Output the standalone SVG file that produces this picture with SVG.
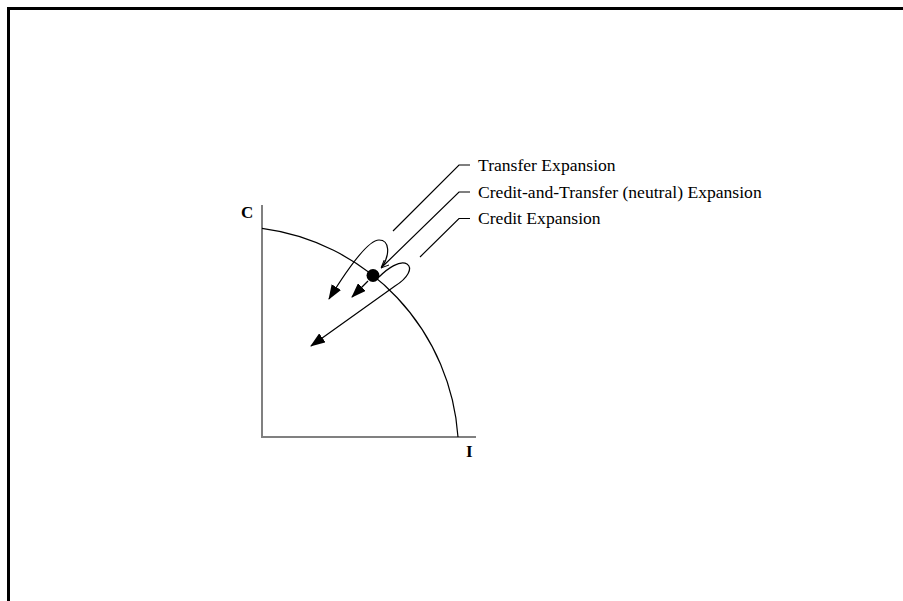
<svg xmlns="http://www.w3.org/2000/svg" width="903" height="601" viewBox="0 0 903 601">
  <style>
    .lbl { font-family: "Liberation Serif", "Times New Roman", serif; font-size: 17.6px; fill: #000; }
    .ax { font-family: "Liberation Serif", "Times New Roman", serif; font-size: 17px; font-weight: bold; fill: #000; }
    .axis { stroke: #808080; stroke-width: 2; fill: none; }
    .ln { stroke: #000; stroke-width: 1.2; fill: none; }
  </style>
  <defs>
    <marker id="ah" viewBox="0 0 15 11" refX="14" refY="5.5" markerWidth="15" markerHeight="11" markerUnits="userSpaceOnUse" orient="auto">
      <path d="M0,0 L15,5.5 L0,11 z" fill="#000"/>
    </marker>
    <marker id="ahs" viewBox="0 0 8 8" refX="8" refY="4" markerWidth="8" markerHeight="8" markerUnits="userSpaceOnUse" orient="auto">
      <path d="M0,0.5 L8,4 L0,7.5" fill="none" stroke="#000" stroke-width="1"/>
    </marker>
  </defs>
  <rect x="0" y="0" width="903" height="601" fill="#fff"/>
  <path d="M 8.5 601 V 8.5 H 903" fill="none" stroke="#000" stroke-width="3"/>

  <g id="axes">
    <path class="axis" d="M 262 205 V 437 H 476"/>
    <text class="ax" x="241" y="218">C</text>
    <text class="ax" x="466" y="457">I</text>
  </g>

  <g id="ppf">
    <path class="ln" d="M 262 228.4 A 226 226 0 0 1 458 437"/>
  </g>

  <g id="point">
    <circle cx="373" cy="275.5" r="6.5" fill="#000"/>
  </g>

  <g id="label-transfer">
    <text class="lbl" x="478" y="171">Transfer Expansion</text>
  </g>
  <g id="label-neutral">
    <text class="lbl" x="478" y="197.5">Credit-and-Transfer (neutral) Expansion</text>
  </g>
  <g id="label-credit">
    <text class="lbl" x="478" y="224">Credit Expansion</text>
  </g>

  <g id="connectors">
    <path class="ln" d="M 470 165 H 459 L 393 231"/>
    <path class="ln" d="M 470 192 H 459 L 381 268" marker-end="url(#ahs)"/>
    <path class="ln" d="M 470 218.5 H 459 L 420 257"/>
    <path class="ln" d="M 382 267 C 390 255, 390 240, 379 240 C 369 240, 350 265, 329 299" marker-end="url(#ah)"/>
    <path class="ln" d="M 368 281 L 352 297" marker-end="url(#ah)"/>
    <path class="ln" d="M 379 277 C 388 268, 400 260, 407 264 C 413 268, 408 278, 395 286 L 311 346" marker-end="url(#ah)"/>
  </g>
</svg>
